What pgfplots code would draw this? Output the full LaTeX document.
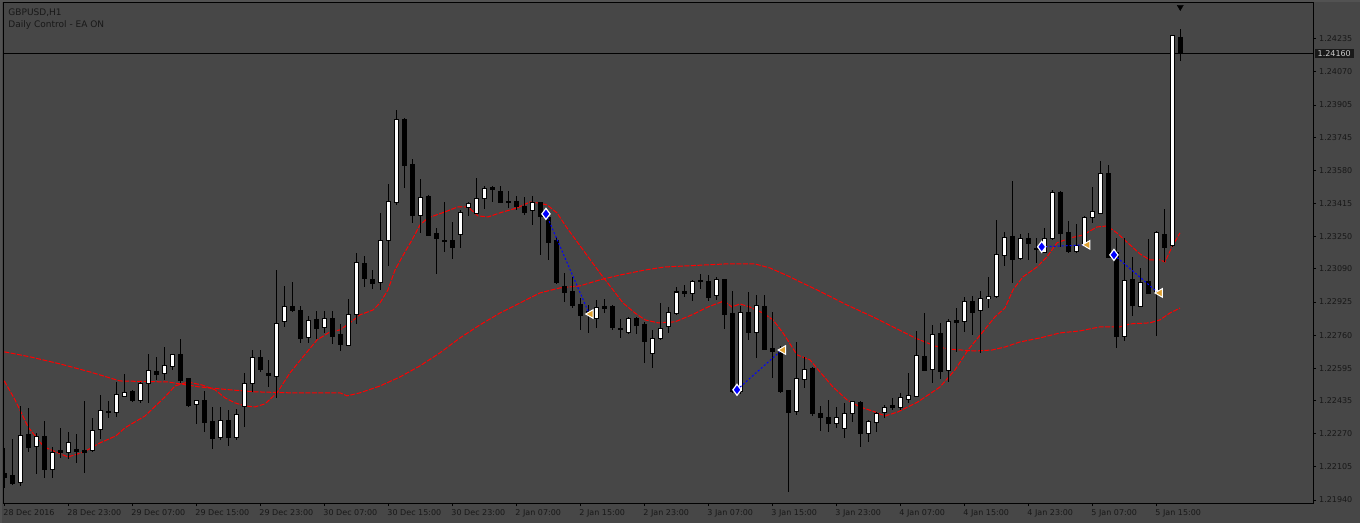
\documentclass[border=0pt]{standalone}
\usepackage{pgfplots}
\pgfplotsset{compat=1.18}
\usepackage{pgfplotstable}
\usepackage{fontspec}
\setmainfont{DejaVu Sans}
\definecolor{bg}{RGB}{71,71,71}
\definecolor{bgedge}{RGB}{82,82,82}
\definecolor{txt}{RGB}{24,24,24}
\definecolor{gold}{RGB}{222,160,48}
\definecolor{mared}{RGB}{255,0,0}
\definecolor{mablue}{RGB}{0,0,255}

\pgfplotstableread{
i o h l c
0 1.22075 1.22199 1.22000 1.22055
1 1.22060 1.22244 1.22015 1.22020
2 1.22025 1.22408 1.22010 1.22259
3 1.22269 1.22398 1.22179 1.22204
4 1.22204 1.22274 1.22070 1.22254
5 1.22259 1.22333 1.22050 1.22095
6 1.22090 1.22204 1.22050 1.22179
7 1.22184 1.22299 1.22149 1.22174
8 1.22179 1.22279 1.22144 1.22229
9 1.22194 1.22269 1.22125 1.22184
10 1.22189 1.22433 1.22075 1.22179
11 1.22189 1.22348 1.22179 1.22289
12 1.22289 1.22463 1.22244 1.22383
13 1.22383 1.22433 1.22348 1.22378
14 1.22378 1.22527 1.22353 1.22463
15 1.22458 1.22567 1.22453 1.22478
16 1.22478 1.22488 1.22428 1.22433
17 1.22433 1.22527 1.22423 1.22517
18 1.22517 1.22667 1.22423 1.22582
19 1.22582 1.22652 1.22537 1.22567
20 1.22572 1.22701 1.22537 1.22607
21 1.22602 1.22667 1.22587 1.22662
22 1.22662 1.22741 1.22522 1.22532
23 1.22542 1.22547 1.22403 1.22408
24 1.22413 1.22433 1.22318 1.22433
25 1.22433 1.22483 1.22279 1.22328
26 1.22333 1.22403 1.22194 1.22249
27 1.22249 1.22403 1.22239 1.22338
28 1.22338 1.22388 1.22209 1.22249
29 1.22249 1.22393 1.22239 1.22368
30 1.22408 1.22572 1.22304 1.22522
31 1.22522 1.22686 1.22478 1.22652
32 1.22652 1.22686 1.22577 1.22592
33 1.22567 1.22637 1.22502 1.22557
34 1.22557 1.23084 1.22448 1.22821
35 1.22826 1.23005 1.22801 1.22905
36 1.22900 1.23025 1.22875 1.22880
37 1.22885 1.22905 1.22721 1.22746
38 1.22751 1.22856 1.22721 1.22836
39 1.22836 1.22880 1.22741 1.22791
40 1.22796 1.22880 1.22771 1.22841
41 1.22846 1.22880 1.22716 1.22756
42 1.22761 1.22816 1.22681 1.22711
43 1.22711 1.22940 1.22706 1.22865
44 1.22865 1.23169 1.22816 1.23124
45 1.23119 1.23154 1.23000 1.23040
46 1.23040 1.23084 1.22990 1.23020
47 1.23020 1.23368 1.22985 1.23233
48 1.23233 1.23512 1.23104 1.23427
49 1.23422 1.23880 1.23408 1.23835
50 1.23835 1.23840 1.23492 1.23606
51 1.23611 1.23636 1.23318 1.23353
52 1.23353 1.23537 1.23268 1.23447
53 1.23452 1.23457 1.23253 1.23258
54 1.23263 1.23293 1.23064 1.23243
55 1.23233 1.23422 1.23174 1.23224
56 1.23233 1.23323 1.23139 1.23194
57 1.23263 1.23383 1.23194 1.23368
58 1.23398 1.23423 1.23353 1.23418
59 1.23368 1.23542 1.23363 1.23442
60 1.23442 1.23502 1.23388 1.23492
61 1.23497 1.23502 1.23422 1.23487
62 1.23477 1.23502 1.23417 1.23422
63 1.23427 1.23477 1.23393 1.23422
64 1.23427 1.23452 1.23383 1.23398
65 1.23398 1.23447 1.23358 1.23368
66 1.23378 1.23452 1.23308 1.23418
67 1.23418 1.23423 1.23159 1.23348
68 1.23348 1.23368 1.23134 1.23224
69 1.23233 1.23248 1.23015 1.23020
70 1.23000 1.23069 1.22925 1.22975
71 1.22975 1.23050 1.22895 1.22910
72 1.22915 1.22945 1.22786 1.22861
73 1.22880 1.22910 1.22771 1.22861
74 1.22841 1.22935 1.22796 1.22900
75 1.22905 1.22940 1.22870 1.22895
76 1.22905 1.22910 1.22786 1.22796
77 1.22796 1.22841 1.22746 1.22791
78 1.22771 1.22851 1.22766 1.22841
79 1.22846 1.22851 1.22766 1.22811
80 1.22816 1.22826 1.22622 1.22731
81 1.22672 1.22786 1.22597 1.22746
82 1.22746 1.22920 1.22736 1.22796
83 1.22801 1.22900 1.22771 1.22875
84 1.22870 1.23000 1.22861 1.22975
85 1.22980 1.23010 1.22950 1.22970
86 1.22970 1.23035 1.22930 1.23025
87 1.23030 1.23064 1.22990 1.23025
88 1.23030 1.23059 1.22930 1.22950
89 1.22955 1.23050 1.22935 1.23035
90 1.23035 1.23040 1.22791 1.22861
91 1.22865 1.22980 1.22473 1.22478
92 1.22478 1.22905 1.22468 1.22875
93 1.22875 1.22975 1.22736 1.22771
94 1.22771 1.22960 1.22647 1.22905
95 1.22905 1.22960 1.22686 1.22691
96 1.22696 1.22875 1.22547 1.22681
97 1.22676 1.22706 1.22473 1.22478
98 1.22483 1.22488 1.21980 1.22378
99 1.22378 1.22726 1.22363 1.22542
100 1.22542 1.22652 1.22497 1.22592
101 1.22592 1.22602 1.22358 1.22368
102 1.22373 1.22408 1.22284 1.22353
103 1.22353 1.22438 1.22279 1.22323
104 1.22323 1.22403 1.22299 1.22353
105 1.22294 1.22423 1.22249 1.22373
106 1.22373 1.22433 1.22328 1.22428
107 1.22428 1.22433 1.22204 1.22274
108 1.22274 1.22338 1.22229 1.22333
109 1.22328 1.22378 1.22279 1.22373
110 1.22378 1.22413 1.22348 1.22403
111 1.22408 1.22448 1.22388 1.22398
112 1.22398 1.22473 1.22388 1.22448
113 1.22443 1.22572 1.22423 1.22463
114 1.22458 1.22781 1.22453 1.22662
115 1.22657 1.22870 1.22582 1.22587
116 1.22592 1.22811 1.22522 1.22766
117 1.22771 1.22821 1.22542 1.22582
118 1.22582 1.22841 1.22527 1.22826
119 1.22831 1.22895 1.22676 1.22821
120 1.22831 1.22950 1.22776 1.22930
121 1.22930 1.22955 1.22761 1.22875
122 1.22880 1.22980 1.22672 1.22940
123 1.22940 1.23050 1.22895 1.22950
124 1.22950 1.23333 1.22945 1.23159
125 1.23154 1.23273 1.23104 1.23248
126 1.23253 1.23527 1.23020 1.23139
127 1.23144 1.23263 1.23134 1.23243
128 1.23243 1.23268 1.23134 1.23214
129 1.23189 1.23243 1.23119 1.23184
130 1.23174 1.23293 1.23169 1.23243
131 1.23243 1.23482 1.23233 1.23472
132 1.23472 1.23477 1.23199 1.23268
133 1.23268 1.23328 1.23169 1.23174
134 1.23179 1.23313 1.23169 1.23209
135 1.23209 1.23353 1.23199 1.23343
136 1.23348 1.23497 1.23318 1.23373
137 1.23368 1.23626 1.23363 1.23567
138 1.23567 1.23606 1.23144 1.23149
139 1.23169 1.23243 1.22696 1.22751
140 1.22756 1.23243 1.22731 1.23035
141 1.23035 1.23149 1.22856 1.22910
142 1.22905 1.23094 1.22900 1.23025
143 1.23025 1.23238 1.22965 1.22970
144 1.22970 1.23278 1.22756 1.23268
145 1.23263 1.23388 1.23124 1.23199
146 1.23204 1.24253 1.23199 1.24248
147 1.24243 1.24283 1.24124 1.24160
}\candles

\pgfplotsset{
  ebar/.style 2 args={draw=none, mark=none, forget plot,
    error bars/.cd, y dir=both, y explicit, error mark=none,
    error bar style={draw=#1, line width=#2, solid}},
}

\begin{document}
\begin{tikzpicture}
\path[fill=bg, use as bounding box] (-3bp,-20bp) rectangle (1357bp,503bp);
\fill[bgedge] (-3bp,-20bp) rectangle (-1bp,503bp);
\fill[bgedge] (-3bp,501bp) rectangle (1357bp,503bp);
\begin{axis}[
  at={(0,0)}, anchor=south west,
  scale only axis, width=1310bp, height=500bp,
  xmin=-0.1625, xmax=163.59, ymin=1.21925, ymax=1.24412,
  axis background/.style={fill=bg},
  axis line style={draw=black, line width=1bp},
  clip mode=individual,
  scaled y ticks=false, scaled x ticks=false,
  xtick={0,8,...,144},
  xticklabels={28 Dec 2016,28 Dec 23:00,29 Dec 07:00,29 Dec 15:00,29 Dec 23:00,30 Dec 07:00,30 Dec 15:00,30 Dec 23:00,2 Jan 07:00,2 Jan 15:00,2 Jan 23:00,3 Jan 07:00,3 Jan 15:00,3 Jan 23:00,4 Jan 07:00,4 Jan 15:00,4 Jan 23:00,5 Jan 07:00,5 Jan 15:00},
  ytick={1.21940,1.22105,1.22270,1.22435,1.22595,1.22760,1.22925,1.23090,1.23250,1.23415,1.23580,1.23745,1.23905,1.24070,1.24235},
  yticklabels={1.21940,1.22105,1.22270,1.22435,1.22595,1.22760,1.22925,1.23090,1.23250,1.23415,1.23580,1.23745,1.23905,1.24070,1.24235},
  xtick pos=bottom, ytick pos=right, yticklabel pos=right,
  tick align=outside, major tick length=3bp,
  tick style={draw=black, line width=0.8bp},
  tick label style={font=\fontsize{8bp}{9.6bp}\selectfont, text=txt},
  xticklabel style={anchor=north west, inner sep=0pt, xshift=-1bp, yshift=-3bp},
  yticklabel style={anchor=west, inner sep=0pt, xshift=3bp},
]
% current price line
\addplot[black, line width=1bp] coordinates {(-0.1625,1.24160) (163.59,1.24160)};
% slow moving average
\addplot[mared, line width=1bp, dash pattern=on 5bp off 1.5bp] coordinates {
(0,1.22677) (3.21,1.22652) (6.96,1.22617) (10.71,1.22577) (14.46,1.22532) (20.46,1.22527)
(24.46,1.22502) (28.21,1.22488) (31.34,1.22478) (35.71,1.22473) (41.96,1.22473) (42.84,1.22458)
(44.46,1.22473) (46.96,1.22507) (49.46,1.22552) (51.96,1.22607) (54.46,1.22672) (56.96,1.22746)
(59.46,1.22811) (61.96,1.22870) (64.46,1.22920) (66.96,1.22970) (69.46,1.22995) (71.96,1.23005)
(74.46,1.23035) (76.96,1.23059) (80.09,1.23084) (82.59,1.23099) (85.09,1.23104) (87.59,1.23109)
(90.09,1.23114) (93.84,1.23114) (95.71,1.23094) (98.21,1.23050) (99.46,1.23025) (101.59,1.22985)
(105.34,1.22910) (108.84,1.22846) (111.34,1.22796) (113.84,1.22746) (116.34,1.22706) (117.96,1.22691)
(121.34,1.22681) (123.46,1.22686) (125.09,1.22701) (126.96,1.22726) (129.46,1.22746) (131.96,1.22771)
(134.46,1.22781) (136.96,1.22801) (139.46,1.22801) (140.71,1.22816) (143.21,1.22821) (144.46,1.22836)
(145.71,1.22870) (146.96,1.22895)};
% fast moving average
\addplot[mared, line width=1bp, dash pattern=on 5bp off 1.5bp] coordinates {
(0,1.22532) (1.34,1.22438) (2.96,1.22304) (4.96,1.22204) (7.96,1.22154) (9.96,1.22179)
(11.96,1.22224) (13.96,1.22259) (15.09,1.22299) (17.59,1.22358) (20.09,1.22453) (21.34,1.22507)
(22.96,1.22527) (24.71,1.22512) (26.34,1.22488) (27.59,1.22448) (28.84,1.22423) (30.09,1.22408)
(31.34,1.22403) (32.59,1.22418) (34.09,1.22473) (35.71,1.22572) (37.34,1.22652) (39.09,1.22736)
(40.71,1.22776) (41.96,1.22786) (43.21,1.22821) (44.46,1.22861) (46.09,1.22885) (46.96,1.22920)
(47.96,1.22985) (48.84,1.23084) (50.09,1.23174) (50.96,1.23233) (51.96,1.23308) (52.96,1.23343)
(55.09,1.23373) (56.71,1.23398) (57.96,1.23398) (59.21,1.23353) (60.46,1.23348) (61.96,1.23368)
(64.09,1.23393) (65.71,1.23422) (66.59,1.23418) (67.84,1.23408) (69.09,1.23368) (70.34,1.23293)
(72.34,1.23184) (74.46,1.23069) (76.09,1.22985) (77.34,1.22920) (78.84,1.22870) (80.09,1.22836)
(81.71,1.22821) (83.84,1.22826) (85.96,1.22861) (87.96,1.22900) (89.96,1.22930) (90.96,1.22900)
(91.96,1.22915) (93.21,1.22900) (94.84,1.22870) (96.09,1.22836) (97.34,1.22771) (99.09,1.22662)
(100.71,1.22637) (101.96,1.22577) (103.59,1.22502) (105.34,1.22438) (106.96,1.22403) (108.84,1.22378)
(110.09,1.22358) (111.71,1.22378) (114.21,1.22428) (116.96,1.22502) (118.84,1.22587) (120.46,1.22686)
(122.21,1.22771) (123.84,1.22851) (125.09,1.22895) (126.09,1.22985) (127.34,1.23050) (129.09,1.23099)
(130.34,1.23149) (131.59,1.23219) (133.21,1.23243) (134.84,1.23258) (136.59,1.23298) (137.84,1.23303)
(139.09,1.23268) (140.71,1.23209) (141.96,1.23164) (143.21,1.23134) (144.46,1.23134) (145.09,1.23124)
(145.96,1.23199) (146.96,1.23268)};
% candles: wicks, bodies (outline/black), bull inner (white)
\addplot[ebar={black}{1bp}]
  table[x=i, y expr={(\thisrow{h}+\thisrow{l})/2}, y error expr={(\thisrow{h}-\thisrow{l})/2}] {\candles};
\addplot[ebar={black}{5bp}]
  table[x=i, y expr={(\thisrow{o}+\thisrow{c})/2}, y error expr={abs(\thisrow{c}-\thisrow{o})/2+0.000025}] {\candles};
\addplot[restrict expr to domain={\thisrow{c}-\thisrow{o}}{0.00004:1}, ebar={white}{3bp}]
  table[x=i, y expr={(\thisrow{o}+\thisrow{c})/2}, y error expr={(\thisrow{c}-\thisrow{o})/2-0.000025}] {\candles};
% trades
\addplot[mablue, line width=1bp, dash pattern=on 2bp off 2bp] coordinates {(67.71,1.23363) (73.13,1.22865)};
\addplot[mablue, line width=1bp, dash pattern=on 2bp off 2bp] coordinates {(91.59,1.22488) (97.18,1.22686)};
\addplot[mablue, line width=1bp, dash pattern=on 2bp off 2bp] coordinates {(129.68,1.23199) (135.21,1.23209)};
\addplot[mablue, line width=1bp, dash pattern=on 2bp off 2bp] coordinates {(138.71,1.23159) (144.25,1.22970)};
\addplot[only marks, mark=diamond*, mark size=5.5bp, mark options={fill=mablue, draw=white, line width=1.2bp}]
  coordinates {(67.71,1.23363) (91.59,1.22488) (129.68,1.23199) (138.71,1.23159)};
\addplot[only marks, mark=triangle*, mark size=5bp, mark options={rotate=90, fill=gold, draw=white, line width=1bp}]
  coordinates {(73.3,1.22865) (97.35,1.22686) (135.4,1.23209) (144.45,1.22970)};
% shift marker
\addplot[only marks, mark=triangle*, mark size=3.5bp, mark options={rotate=180, fill=black, draw=black}]
  coordinates {(147,1.24392)};
% texts
\node[anchor=base west, font=\fontsize{9bp}{11bp}\selectfont, text=txt, inner sep=0pt, xshift=5.3bp, yshift=-12.7bp] at (rel axis cs:0,1) {GBPUSD,H1};
\node[anchor=base west, font=\fontsize{9bp}{11bp}\selectfont, text=txt, inner sep=0pt, xshift=5.3bp, yshift=-24.7bp] at (rel axis cs:0,1) {Daily Control - EA ON};
\node[anchor=west, fill=black!90, text=black!20, font=\fontsize{8bp}{9.6bp}\selectfont, inner xsep=3bp, inner ysep=1.5bp, xshift=1.5bp] at (axis cs:163.59,1.24160) {1.24160};
\end{axis}
\end{tikzpicture}
\end{document}
